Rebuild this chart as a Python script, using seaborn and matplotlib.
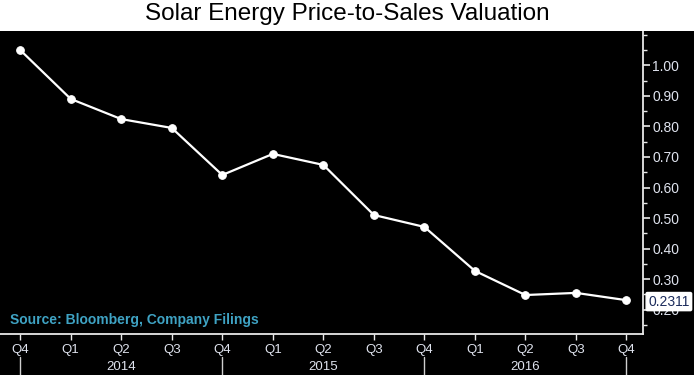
import numpy as np
import pandas as pd
import seaborn as sns
import matplotlib.pyplot as plt
from matplotlib.patches import Rectangle
from matplotlib.ticker import MultipleLocator, FixedLocator
import matplotlib.transforms as mtransforms

quarters = ["Q4", "Q1", "Q2", "Q3", "Q4", "Q1", "Q2", "Q3", "Q4", "Q1", "Q2", "Q3", "Q4"]
years = ["2014", "2015", "2016"]
ps_ratio = [1.05, 0.89, 0.824, 0.795, 0.641, 0.71, 0.674, 0.51, 0.471, 0.327, 0.248, 0.255, 0.2311]
last_label = "0.2311"

df = pd.DataFrame({"idx": np.arange(len(quarters)), "ps": ps_ratio})

sns.set_theme(style="dark")
plt.rcParams["font.family"] = ["Liberation Sans Narrow", "Liberation Sans", "DejaVu Sans"]

fig = plt.figure(figsize=(6.94, 3.75), dpi=100, facecolor="black")
# white title band on top
fig.patches.append(Rectangle((0, 0.918), 1, 0.082, transform=fig.transFigure,
                             facecolor="white", edgecolor="none", zorder=0))
fig.text(0.5, 0.962, "Solar Energy Price-to-Sales Valuation", ha="center", va="center",
         fontsize=17.5, color="black", family=["Liberation Sans", "DejaVu Sans"])

ax = fig.add_axes([0.0, 0.109, 0.926, 0.808])
ax.set_facecolor("black")

sns.lineplot(data=df, x="idx", y="ps", ax=ax, color="white", lw=1.6,
             marker="o", markersize=5.5, markeredgecolor="white", markerfacecolor="white")

ax.set_xlim(-0.4, 12.32)
ax.set_ylim(0.12, 1.112)
ax.set_xlabel("")
ax.set_ylabel("")

for s in ["left", "top"]:
    ax.spines[s].set_visible(False)
for s in ["right", "bottom"]:
    ax.spines[s].set_visible(True)
    ax.spines[s].set_color("#e8e8e8")
    ax.spines[s].set_linewidth(1.3)

txt_col = "#dfe3ee"
ax.yaxis.tick_right()
ax.yaxis.set_major_locator(FixedLocator(np.round(np.arange(0.2, 1.01, 0.1), 2)))
ax.yaxis.set_minor_locator(MultipleLocator(0.05))
ax.set_yticklabels([f"{v:.2f}" for v in np.arange(0.2, 1.01, 0.1)])
ax.tick_params(axis="y", which="major", right=True, left=False, direction="out", length=5,
               width=1.2, color="#e8e8e8", labelcolor=txt_col, labelsize=10, pad=2)
ax.tick_params(axis="y", which="minor", right=True, left=False, direction="out", length=3,
               width=1, color="#e8e8e8")

ax.set_xticks(df["idx"])
ax.set_xticklabels(quarters)
ax.tick_params(axis="x", which="major", bottom=True, direction="out", length=4, width=1,
               color="#e8e8e8", labelcolor=txt_col, labelsize=9.5, pad=3)
ax.grid(False)

# year separators and labels
trans = mtransforms.blended_transform_factory(ax.transData, ax.transAxes)
for i in range(0, len(quarters), 4):
    ax.plot([i, i], [-0.075, -0.14], transform=trans, color="#cfcfcf", lw=1, clip_on=False)
for k, yr in enumerate(years):
    ax.text(2 + 4 * k, -0.108, yr, transform=trans, ha="center", va="center",
            fontsize=9.5, color=txt_col)

# last value tag
ax.annotate(last_label, xy=(1.0, ps_ratio[-1]), xycoords=("axes fraction", "data"),
            xytext=(4, -1), textcoords="offset points", ha="left", va="center",
            fontsize=10, color="#1c2c5c", annotation_clip=False,
            bbox=dict(boxstyle="round,pad=0.15,rounding_size=0.1", fc="white", ec="white"))

ax.text(0.015, 0.045, "Source: Bloomberg, Company Filings", transform=ax.transAxes,
        ha="left", va="center", fontsize=10, fontweight="bold", color="#3fa3c4",
        family=["Liberation Sans", "DejaVu Sans"])

fig.savefig("out.png", dpi=100, facecolor=fig.get_facecolor())
